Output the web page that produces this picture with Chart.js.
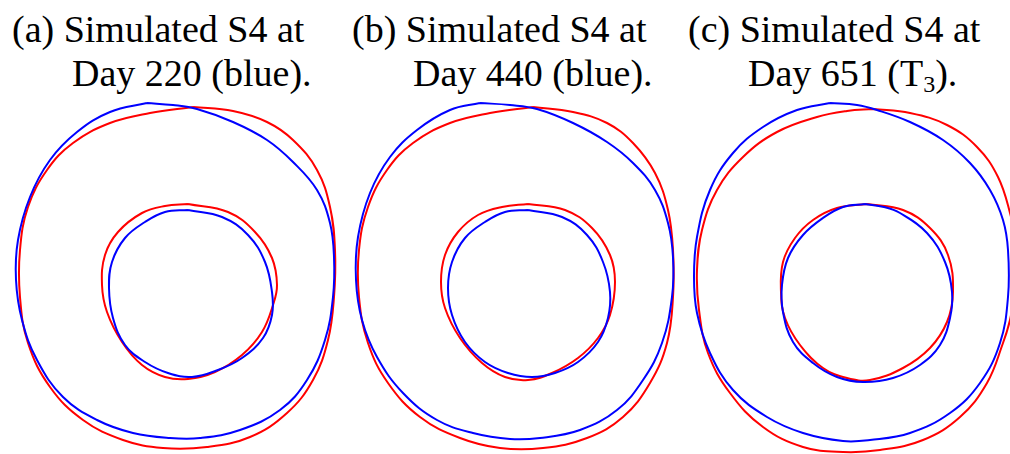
<!DOCTYPE html>
<html>
<head>
<meta charset="utf-8">
<script src="https://cdn.jsdelivr.net/npm/chart.js@4.4.1/dist/chart.umd.min.js"></script>
<style>
  body { margin: 0; background: #fff; width: 1010px; height: 454px; overflow: hidden; position: relative; font-family: 'Liberation Serif', 'Times New Roman', Times, serif; }
  .t { position: absolute; font-size: 38px; line-height: 44px; color: #000; white-space: nowrap; }
  .t sub { font-size: 24px; line-height: 0; vertical-align: -6px; }
  canvas { position: absolute; top: 95px; }
</style>
</head>
<body>
<div class="t" style="left:12px; top:7px;">(a) Simulated S4 at</div>
<div class="t" style="left:72px; top:51px;">Day 220 (blue).</div>
<div class="t" style="left:352px; top:7px;">(b) Simulated S4 at</div>
<div class="t" style="left:413px; top:51px;">Day 440 (blue).</div>
<div class="t" style="left:688px; top:7px;">(c) Simulated S4 at</div>
<div class="t" style="left:748px; top:51px;">Day 651 (T<sub>3</sub>).</div>

<canvas id="chartA" width="340" height="359" style="left:0px"></canvas>
<canvas id="chartB" width="340" height="359" style="left:340px"></canvas>
<canvas id="chartC" width="330" height="359" style="left:680px"></canvas>

<script>
// contours, x / y relative to each panel centre (y up)

// (a) Day 220
const aBlueOuter = [[-28,172],[-2,170],[22,166],[58,153],[92,135],[118,113],[142,85],[155,52],[159,18],[158,-22],[150,-65],[132,-105],[105,-135],[65,-155],[25,-163],[-5,-163],[-42,-158],[-78,-145],[-112,-122],[-138,-85],[-153,-45],[-159,-5],[-157,35],[-145,78],[-125,115],[-98,143],[-65,163]];
const aRedOuter = [[18,168],[58,164],[92,153],[118,135],[142,105],[155,68],[160,25],[159,-22],[153,-65],[138,-105],[112,-138],[75,-162],[32,-172],[-12,-173],[-52,-165],[-92,-145],[-125,-112],[-147,-68],[-155,-22],[-155,25],[-147,68],[-128,105],[-102,132],[-65,152],[-25,162]];
const aBlueInner = [[13,65],[47,58],[73,40],[90,13],[97,-17],[97,-40],[88,-63],[67,-83],[43,-95],[17,-102],[-7,-98],[-30,-87],[-50,-70],[-62,-43],[-66,-13],[-63,13],[-50,37],[-30,53],[-10,63]];
const aRedInner = [[13,71],[53,63],[80,43],[97,17],[102,-10],[98,-30],[87,-57],[67,-80],[40,-97],[13,-104],[-10,-102],[-33,-90],[-53,-67],[-68,-37],[-73,-10],[-70,20],[-57,43],[-33,62],[-10,69]];

// (b) Day 440
const bBlueOuter = [[-35,172],[-5,170],[22,166],[58,152],[92,133],[118,112],[140,85],[153,52],[158,18],[157,-22],[147,-68],[128,-105],[102,-135],[65,-155],[25,-163],[-5,-164],[-42,-158],[-78,-145],[-112,-118],[-138,-82],[-153,-45],[-159,-5],[-157,38],[-145,82],[-125,118],[-98,145],[-65,165]];
const bRedOuter = [[18,168],[58,163],[92,152],[118,132],[140,102],[153,65],[158,25],[158,-22],[152,-68],[135,-108],[108,-142],[72,-163],[28,-173],[-15,-173],[-55,-163],[-95,-142],[-127,-108],[-147,-68],[-156,-22],[-156,25],[-147,68],[-128,105],[-102,132],[-65,152],[-25,162]];
const bBlueInner = [[13,65],[47,58],[72,40],[88,13],[95,-17],[93,-43],[83,-67],[63,-87],[40,-98],[17,-102],[-7,-98],[-30,-87],[-50,-67],[-63,-40],[-67,-13],[-63,13],[-50,37],[-30,53],[-10,63]];
const bRedInner = [[13,71],[50,65],[77,47],[95,20],[100,-7],[95,-40],[83,-63],[63,-83],[37,-98],[13,-105],[-10,-102],[-33,-88],[-55,-63],[-70,-33],[-74,-7],[-70,20],[-57,43],[-37,60],[-13,68]];

// (c) Day 651
const cBlueOuter = [[-20,172],[7,170],[27,165],[60,153],[93,135],[120,112],[140,85],[153,55],[158,25],[158,-22],[150,-68],[130,-108],[100,-138],[60,-158],[20,-165],[-7,-166],[-47,-158],[-83,-142],[-117,-115],[-140,-78],[-153,-38],[-156,-2],[-153,38],[-140,85],[-117,122],[-87,148],[-53,165]];
const cRedOuter = [[23,166],[60,162],[97,150],[127,128],[148,98],[160,62],[165,35],[166,5],[163,-25],[160,-45],[153,-68],[137,-108],[110,-142],[73,-165],[30,-175],[-7,-177],[-47,-172],[-87,-152],[-120,-118],[-142,-78],[-151,-35],[-153,5],[-148,45],[-133,85],[-107,118],[-73,143],[-33,158],[-3,164]];
const cBlueInner = [[15,71],[34,68],[50,62],[77,42],[95,13],[102,-17],[100,-43],[90,-70],[70,-90],[43,-103],[13,-107],[-13,-102],[-37,-88],[-57,-67],[-67,-37],[-68,-10],[-62,17],[-47,40],[-27,57],[-7,68]];
const cRedInner = [[17,71],[53,65],[80,47],[98,20],[103,-17],[97,-47],[80,-73],[53,-93],[20,-105],[-3,-103],[-27,-93],[-50,-70],[-65,-43],[-69,-17],[-67,13],[-55,37],[-37,55],[-13,67]];

// closed contour -> dataset
function ring(pts, color) {
    const data = pts.map(p => ({ x: p[0], y: p[1] }));
    data.push({ x: pts[0][0], y: pts[0][1] });
    return {
        data: data,
        showLine: true,
        borderColor: color,
        borderWidth: 2,
        pointRadius: 0,
        tension: 0.4,
        fill: false
    };
}

function panel(id, rings, xmin, xmax) {
    new Chart(document.getElementById(id), {
        type: 'scatter',
        data: {
            datasets: rings.map(r => ring(r[0], r[1]))
        },
        options: {
            responsive: false,
            animation: false,
            layout: { padding: 0 },
            plugins: {
                legend: { display: false },
                tooltip: { enabled: false }
            },
            scales: {
                x: { type: 'linear', min: xmin, max: xmax, display: false },
                y: { type: 'linear', min: -179, max: 180, display: false }
            }
        }
    });
}

const blue = '#0000ff';
const red = '#ff0000';

panel('chartA', [[aBlueOuter, blue], [aBlueInner, blue], [aRedOuter, red], [aRedInner, red]], -175, 165);
panel('chartB', [[bBlueOuter, blue], [bBlueInner, blue], [bRedOuter, red], [bRedInner, red]], -175, 165);
panel('chartC', [[cBlueOuter, blue], [cBlueInner, blue], [cRedOuter, red], [cRedInner, red]], -170, 160);
</script>
</body>
</html>
